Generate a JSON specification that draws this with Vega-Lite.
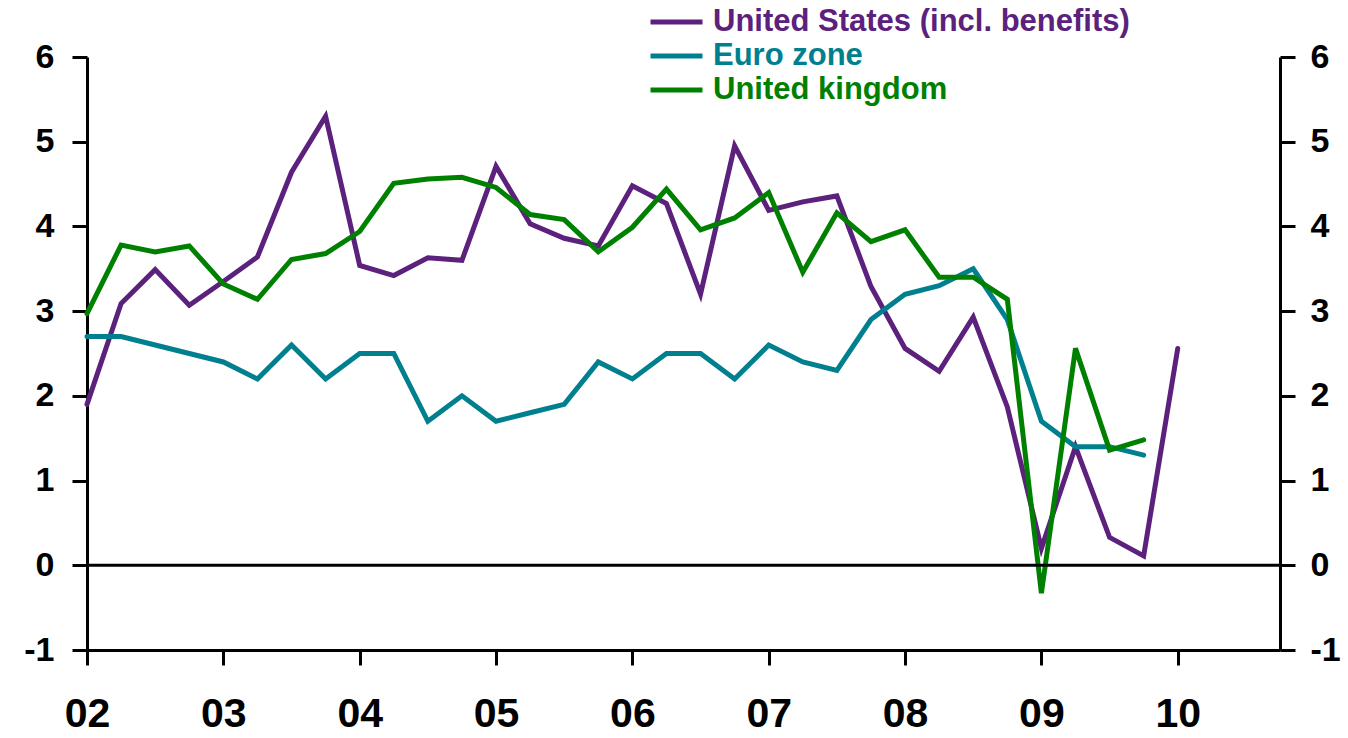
{
  "$schema": "https://vega.github.io/schema/vega-lite/v6.json",
  "width": 1193,
  "height": 593,
  "autosize": {"type": "none"},
  "padding": {"left": 87, "top": 57, "right": 68, "bottom": 88},
  "background": "white",
  "config": {
    "view": {"stroke": null},
    "font": "Liberation Sans",
    "axis": {
      "domainColor": "black",
      "domainWidth": 3,
      "tickColor": "black",
      "tickWidth": 3,
      "tickSize": 15,
      "labelColor": "black",
      "labelFont": "Liberation Sans",
      "labelFontWeight": "bold",
      "labelFontSize": 34,
      "grid": false,
      "title": null
    }
  },
  "data": {
    "values": [
      {"t": 2002.00, "s": "US", "v": 1.90},
      {"t": 2002.25, "s": "US", "v": 3.09},
      {"t": 2002.50, "s": "US", "v": 3.49},
      {"t": 2002.75, "s": "US", "v": 3.07},
      {"t": 2003.00, "s": "US", "v": 3.35},
      {"t": 2003.25, "s": "US", "v": 3.64},
      {"t": 2003.50, "s": "US", "v": 4.64},
      {"t": 2003.75, "s": "US", "v": 5.30},
      {"t": 2004.00, "s": "US", "v": 3.54},
      {"t": 2004.25, "s": "US", "v": 3.42},
      {"t": 2004.50, "s": "US", "v": 3.63},
      {"t": 2004.75, "s": "US", "v": 3.60},
      {"t": 2005.00, "s": "US", "v": 4.71},
      {"t": 2005.25, "s": "US", "v": 4.03},
      {"t": 2005.50, "s": "US", "v": 3.86},
      {"t": 2005.75, "s": "US", "v": 3.77},
      {"t": 2006.00, "s": "US", "v": 4.48},
      {"t": 2006.25, "s": "US", "v": 4.27},
      {"t": 2006.50, "s": "US", "v": 3.20},
      {"t": 2006.75, "s": "US", "v": 4.95},
      {"t": 2007.00, "s": "US", "v": 4.19},
      {"t": 2007.25, "s": "US", "v": 4.29},
      {"t": 2007.50, "s": "US", "v": 4.36},
      {"t": 2007.75, "s": "US", "v": 3.29},
      {"t": 2008.00, "s": "US", "v": 2.56},
      {"t": 2008.25, "s": "US", "v": 2.29},
      {"t": 2008.50, "s": "US", "v": 2.93},
      {"t": 2008.75, "s": "US", "v": 1.87},
      {"t": 2009.00, "s": "US", "v": 0.20},
      {"t": 2009.25, "s": "US", "v": 1.40},
      {"t": 2009.50, "s": "US", "v": 0.33},
      {"t": 2009.75, "s": "US", "v": 0.11},
      {"t": 2010.00, "s": "US", "v": 2.56},
      {"t": 2002.00, "s": "EZ", "v": 2.7},
      {"t": 2002.25, "s": "EZ", "v": 2.7},
      {"t": 2002.50, "s": "EZ", "v": 2.6},
      {"t": 2002.75, "s": "EZ", "v": 2.5},
      {"t": 2003.00, "s": "EZ", "v": 2.4},
      {"t": 2003.25, "s": "EZ", "v": 2.2},
      {"t": 2003.50, "s": "EZ", "v": 2.6},
      {"t": 2003.75, "s": "EZ", "v": 2.2},
      {"t": 2004.00, "s": "EZ", "v": 2.5},
      {"t": 2004.25, "s": "EZ", "v": 2.5},
      {"t": 2004.50, "s": "EZ", "v": 1.7},
      {"t": 2004.75, "s": "EZ", "v": 2.0},
      {"t": 2005.00, "s": "EZ", "v": 1.7},
      {"t": 2005.25, "s": "EZ", "v": 1.8},
      {"t": 2005.50, "s": "EZ", "v": 1.9},
      {"t": 2005.75, "s": "EZ", "v": 2.4},
      {"t": 2006.00, "s": "EZ", "v": 2.2},
      {"t": 2006.25, "s": "EZ", "v": 2.5},
      {"t": 2006.50, "s": "EZ", "v": 2.5},
      {"t": 2006.75, "s": "EZ", "v": 2.2},
      {"t": 2007.00, "s": "EZ", "v": 2.6},
      {"t": 2007.25, "s": "EZ", "v": 2.4},
      {"t": 2007.50, "s": "EZ", "v": 2.3},
      {"t": 2007.75, "s": "EZ", "v": 2.9},
      {"t": 2008.00, "s": "EZ", "v": 3.2},
      {"t": 2008.25, "s": "EZ", "v": 3.3},
      {"t": 2008.50, "s": "EZ", "v": 3.5},
      {"t": 2008.75, "s": "EZ", "v": 2.9},
      {"t": 2009.00, "s": "EZ", "v": 1.7},
      {"t": 2009.25, "s": "EZ", "v": 1.4},
      {"t": 2009.50, "s": "EZ", "v": 1.4},
      {"t": 2009.75, "s": "EZ", "v": 1.3},
      {"t": 2002.00, "s": "UK", "v": 2.97},
      {"t": 2002.25, "s": "UK", "v": 3.78},
      {"t": 2002.50, "s": "UK", "v": 3.70},
      {"t": 2002.75, "s": "UK", "v": 3.77},
      {"t": 2003.00, "s": "UK", "v": 3.32},
      {"t": 2003.25, "s": "UK", "v": 3.14},
      {"t": 2003.50, "s": "UK", "v": 3.61},
      {"t": 2003.75, "s": "UK", "v": 3.68},
      {"t": 2004.00, "s": "UK", "v": 3.94},
      {"t": 2004.25, "s": "UK", "v": 4.51},
      {"t": 2004.50, "s": "UK", "v": 4.56},
      {"t": 2004.75, "s": "UK", "v": 4.58},
      {"t": 2005.00, "s": "UK", "v": 4.46},
      {"t": 2005.25, "s": "UK", "v": 4.14},
      {"t": 2005.50, "s": "UK", "v": 4.08},
      {"t": 2005.75, "s": "UK", "v": 3.70},
      {"t": 2006.00, "s": "UK", "v": 3.99},
      {"t": 2006.25, "s": "UK", "v": 4.44},
      {"t": 2006.50, "s": "UK", "v": 3.96},
      {"t": 2006.75, "s": "UK", "v": 4.10},
      {"t": 2007.00, "s": "UK", "v": 4.40},
      {"t": 2007.25, "s": "UK", "v": 3.46},
      {"t": 2007.50, "s": "UK", "v": 4.16},
      {"t": 2007.75, "s": "UK", "v": 3.82},
      {"t": 2008.00, "s": "UK", "v": 3.96},
      {"t": 2008.25, "s": "UK", "v": 3.40},
      {"t": 2008.50, "s": "UK", "v": 3.40},
      {"t": 2008.75, "s": "UK", "v": 3.14},
      {"t": 2009.00, "s": "UK", "v": -0.33},
      {"t": 2009.25, "s": "UK", "v": 2.56},
      {"t": 2009.50, "s": "UK", "v": 1.36},
      {"t": 2009.75, "s": "UK", "v": 1.48}
    ]
  },
  "layer": [
    {
      "mark": {"type": "line", "strokeWidth": 5, "strokeJoin": "miter", "strokeCap": "round"},
      "encoding": {
        "x": {
          "field": "t",
          "type": "quantitative",
          "scale": {"domain": [2002, 2010.75], "nice": false, "zero": false},
          "axis": {
            "values": [2002, 2003, 2004, 2005, 2006, 2007, 2008, 2009, 2010],
            "labelExpr": "format(datum.value % 100, '02d')",
            "labelFontSize": 41,
            "labelPadding": 29,
            "labelFlush": false,
            "labelOverlap": false
          }
        },
        "y": {
          "field": "v",
          "type": "quantitative",
          "scale": {"domain": [-1, 6], "nice": false, "zero": false},
          "axis": {"values": [-1, 0, 1, 2, 3, 4, 5, 6], "labelPadding": 18, "orient": "left", "labelExpr": "'' + datum.value"}
        },
        "color": {
          "field": "s",
          "type": "nominal",
          "scale": {
            "domain": ["US", "EZ", "UK"],
            "range": ["#5B217D", "#00808F", "#008000"]
          },
          "legend": {
            "title": null,
            "orient": "none",
            "legendX": 561,
            "legendY": -52,
            "padding": 0,
            "symbolType": "stroke",
            "symbolSize": 2704,
            "symbolStrokeWidth": 5,
            "labelFont": "Liberation Sans",
            "labelFontSize": 31,
            "labelFontWeight": "bold",
            "labelOffset": 8,
            "labelLimit": 0,
            "rowPadding": 0,
            "clipHeight": 34,
            "labelExpr": "datum.value == 'US' ? '\u00a0United States (incl. benefits)' : datum.value == 'EZ' ? 'Euro zone' : 'United kingdom'",
            "encode": {
              "labels": {"update": {"fill": {"scale": "color", "field": "value"}}}
            }
          }
        }
      }
    },
    {
      "data": {"values": [{"z": 0}]},
      "mark": {"type": "rule", "strokeWidth": 3, "color": "black"},
      "encoding": {
        "y": {
          "field": "z",
          "type": "quantitative",
          "scale": {"domain": [-1, 6], "nice": false, "zero": false},
          "axis": {"values": [-1, 0, 1, 2, 3, 4, 5, 6], "labelPadding": 15, "orient": "right", "labelExpr": "'' + datum.value"}
        }
      }
    }
  ],
  "resolve": {"axis": {"y": "independent"}}
}
